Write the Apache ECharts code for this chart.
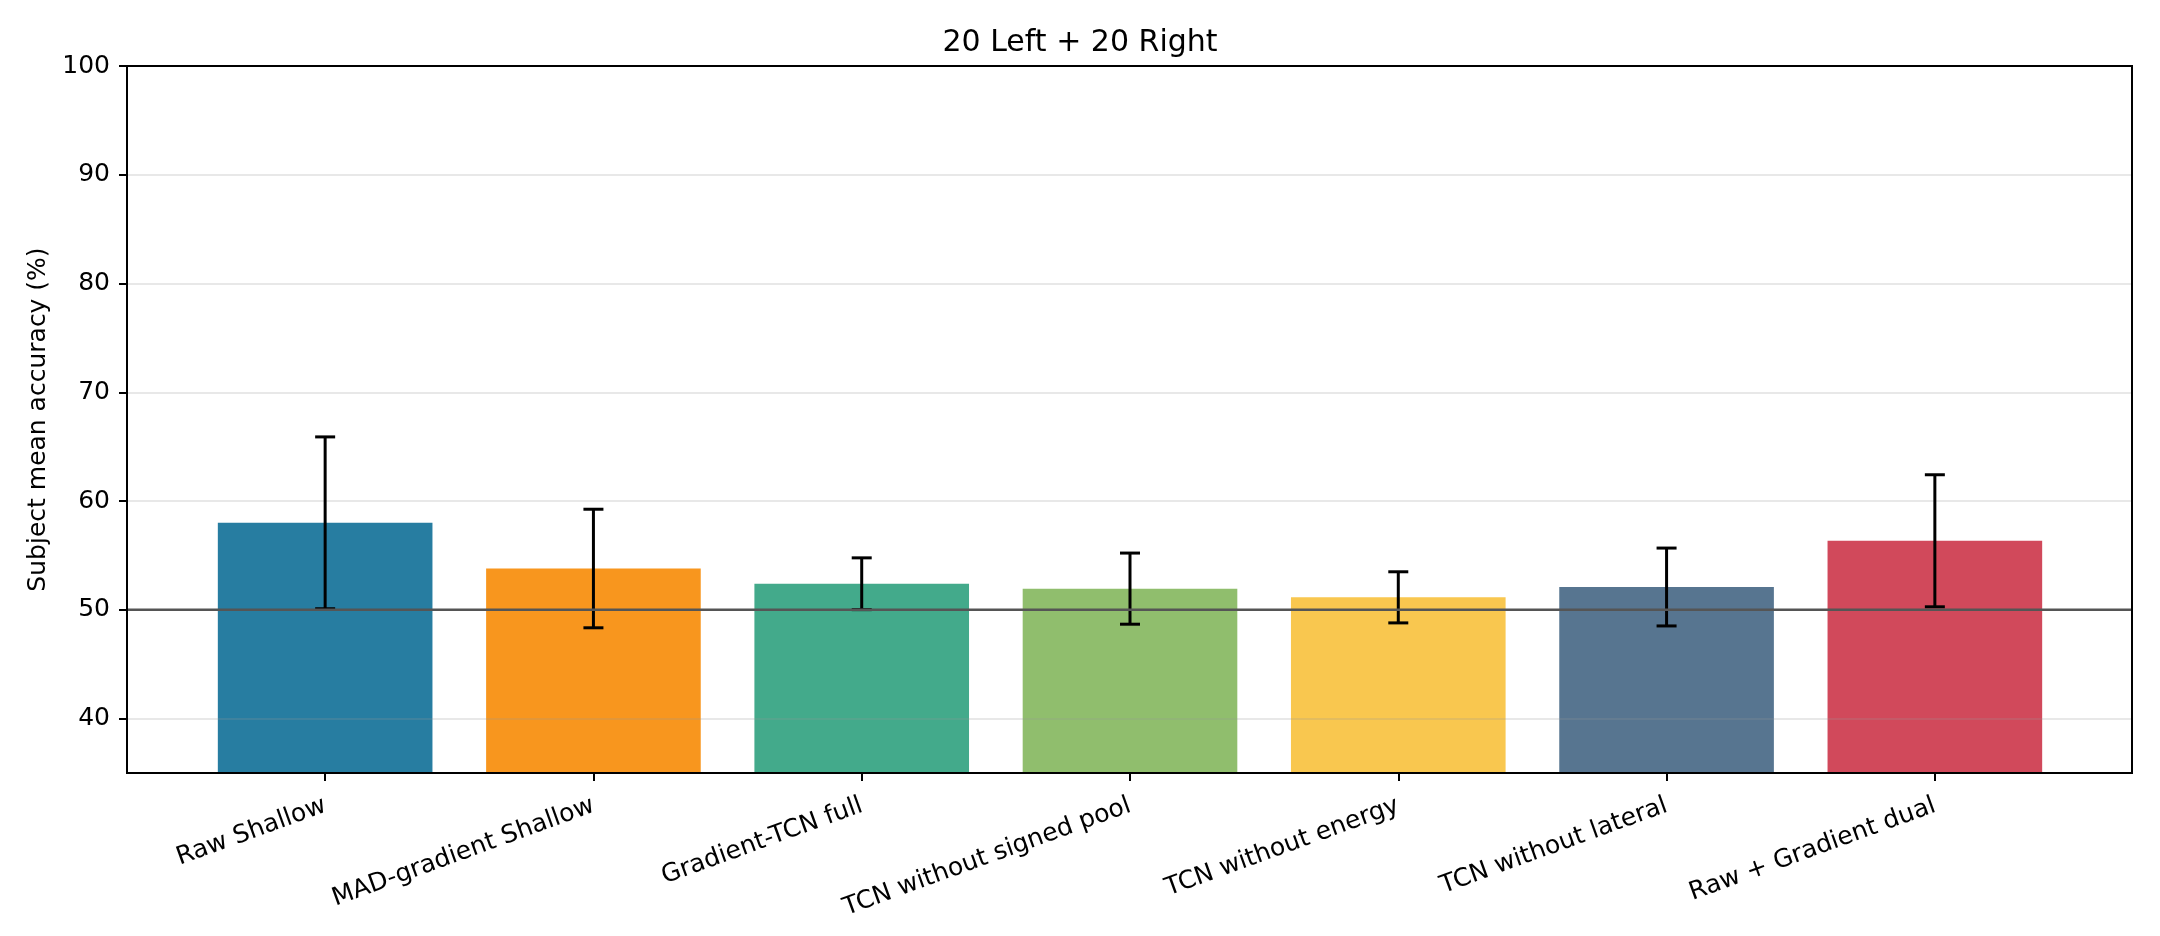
<!DOCTYPE html>
<html>
<head>
<meta charset="utf-8">
<script src="https://cdn.jsdelivr.net/npm/echarts@6/dist/echarts.min.js"></script>
<style>
  html, body { margin: 0; padding: 0; background: #fff; }
  #chart { width: 2160px; height: 936px; }
</style>
</head>
<body>
<div id="chart"></div>
<script>
// bar chart: subject mean accuracy per model, with sd error bars
var categories = ['Raw Shallow', 'MAD-gradient Shallow', 'Gradient-TCN full',
    'TCN without signed pool', 'TCN without energy', 'TCN without lateral', 'Raw + Gradient dual'];
var meanAcc = [58.0, 53.8, 52.4, 51.95, 51.15, 52.1, 56.35];
var errSd = [7.9, 5.45, 2.38, 3.27, 2.35, 3.58, 6.07];
var barColors = ['#277DA1', '#F8961E', '#43AA8B', '#90BE6D', '#F9C74F', '#577590', '#D1495B'];
var yTicks = [40, 50, 60, 70, 80, 90, 100];
var chanceLevel = 50;
var yMin = 35, yMax = 100;

var font = 'DejaVu Sans';
var chart = echarts.init(document.getElementById('chart'));

var errData = categories.map(function (c, i) { return [i, meanAcc[i], errSd[i]]; });

chart.setOption({
    backgroundColor: '#fff',
    animation: false,
    title: {
        text: '20 Left + 20 Right', left: 'center', top: 28, padding: 0,
        textStyle: { fontFamily: font, fontSize: 30, fontWeight: 'normal', color: '#000' }
    },
    grid: [
        { left: 127, right: 28, top: 66, bottom: 163, show: true, borderColor: '#000', borderWidth: 2, z: 6 },
        { left: 191, right: 91, top: 66, bottom: 163 }
    ],
    xAxis: [
        { type: 'value', gridIndex: 0, min: 0, max: 1, show: false },
        {
            type: 'category', gridIndex: 1, data: categories, boundaryGap: true,
            axisLine: { show: false },
            axisTick: { show: true, alignWithLabel: true, length: 8, lineStyle: { color: '#000', width: 2 } },
            axisLabel: { interval: 0, rotate: 20, margin: 32, fontFamily: font, fontSize: 25, color: '#000' },
            splitLine: { show: false }
        }
    ],
    yAxis: [
        {
            type: 'value', gridIndex: 0, min: yMin, max: yMax, z: 3,
            name: 'Subject mean accuracy (%)', nameLocation: 'middle', nameGap: 74,
            nameTextStyle: { fontFamily: font, fontSize: 25, color: '#000' },
            axisLine: { show: true, lineStyle: { color: '#000', width: 2 } },
            axisTick: { show: true, length: 8, customValues: yTicks, lineStyle: { color: '#000', width: 2 } },
            axisLabel: { margin: 17, customValues: yTicks, fontFamily: font, fontSize: 25, color: '#000' },
            splitLine: { show: true, lineStyle: { color: 'rgba(150,150,150,0.22)', width: 2 } }
        },
        { type: 'value', gridIndex: 1, min: yMin, max: yMax, show: false }
    ],
    series: [
        {
            type: 'bar', xAxisIndex: 1, yAxisIndex: 1, barWidth: '80%', z: 2,
            data: meanAcc.map(function (v, i) { return { value: v, itemStyle: { color: barColors[i] } }; })
        },
        {
            type: 'custom', xAxisIndex: 1, yAxisIndex: 1, z: 4, data: errData,
            renderItem: function (params, api) {
                var top = api.coord([api.value(0), api.value(1) + api.value(2)]);
                var bot = api.coord([api.value(0), api.value(1) - api.value(2)]);
                var cw = 10;
                var st = { stroke: '#000', lineWidth: 3 };
                return {
                    type: 'group',
                    children: [
                        { type: 'line', shape: { x1: top[0], y1: top[1], x2: bot[0], y2: bot[1] }, style: st },
                        { type: 'line', shape: { x1: top[0] - cw, y1: top[1], x2: top[0] + cw, y2: top[1] }, style: st },
                        { type: 'line', shape: { x1: bot[0] - cw, y1: bot[1], x2: bot[0] + cw, y2: bot[1] }, style: st }
                    ]
                };
            }
        },
        {
            type: 'line', xAxisIndex: 0, yAxisIndex: 0, z: 5, symbol: 'none', silent: true,
            data: [[0, chanceLevel], [1, chanceLevel]],
            lineStyle: { color: '#555', width: 2.5 }
        }
    ]
});
</script>
</body>
</html>
